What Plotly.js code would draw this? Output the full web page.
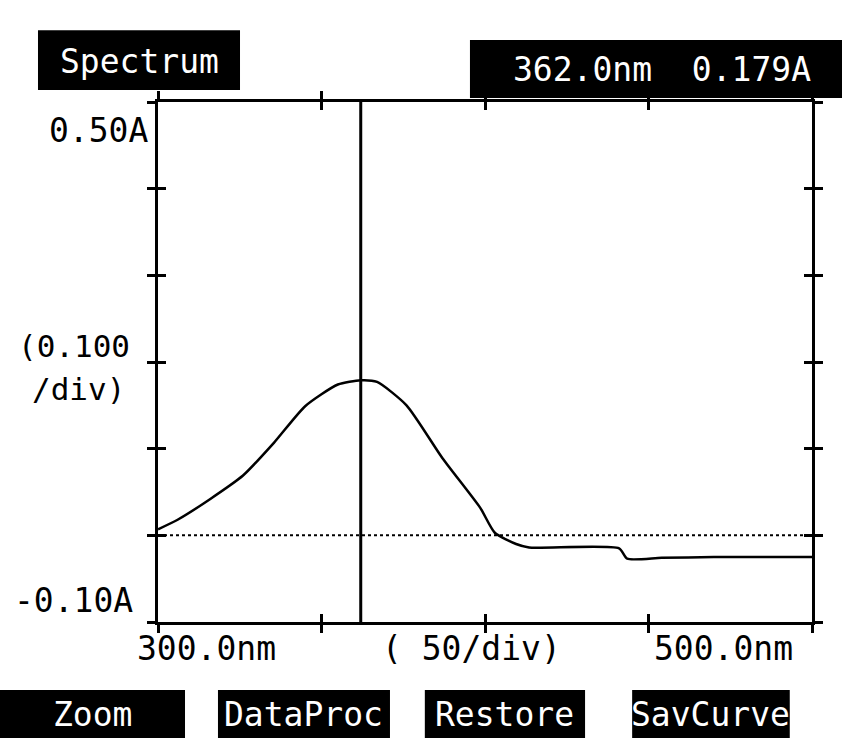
<!DOCTYPE html>
<html>
<head>
<meta charset="utf-8">
<script src="https://cdn.plot.ly/plotly-3.0.1.min.js"></script>
<style>html,body{margin:0;padding:0;background:#fff;}#chart{width:842px;height:738px;}</style>
</head>
<body>
<div id="chart"></div>
<script>
// Spectrum data (wavelength nm, absorbance A)
const wavelength = [300, 306, 316, 326, 335.5, 345, 355, 362, 367, 376, 387, 398.5, 403, 409.5, 413.5, 441, 443.5, 454, 470, 485, 500];
const absorbance = [0.007, 0.018, 0.042, 0.069, 0.107, 0.149, 0.174, 0.179, 0.177, 0.150, 0.089, 0.032, 0.003, -0.010, -0.014, -0.015, -0.027, -0.026, -0.025, -0.025, -0.025];
const baselineX = [300, 500];
const baselineY = [0, 0];
const cursorNm = 362.0;
const cursorA = 0.179;
const xRange = [300, 500];
const yRange = [-0.10, 0.50];
const xTickVals = [300, 350, 400, 450, 500];
const yTickVals = [-0.1, 0, 0.1, 0.2, 0.3, 0.4, 0.5];
const yEndLabels = ["0.50A", "-0.10A"];
const yDivLabel = ["(0.100", "/div)"];
const xLabels = ["300.0nm", "( 50/div)", "500.0nm"];
const titleLabel = "Spectrum";
const readoutLabel = cursorNm.toFixed(1) + "nm  " + cursorA.toFixed(3) + "A";
const buttonLabels = ["Zoom", "DataProc", "Restore", "SavCurve"];

const FONT = "DejaVu Sans Mono, Liberation Mono, monospace";
const fs = 33;

const traces = [
  {x: baselineX, y: baselineY, mode: "lines", line: {color: "#000", width: 2, dash: "dot"}, hoverinfo: "skip"},
  {x: wavelength, y: absorbance, mode: "lines", line: {color: "#000", width: 2.5, shape: "spline", smoothing: 0.6}, hoverinfo: "skip"},
  {x: [cursorNm, cursorNm], y: yRange, mode: "lines", line: {color: "#000", width: 3}, hoverinfo: "skip"},
  {x: xRange, y: yRange, xaxis: "x2", yaxis: "y2", mode: "none", hoverinfo: "skip"}
];

const axBase = {showgrid: false, zeroline: false, showticklabels: false, showline: true, linecolor: "#000", linewidth: 3, mirror: "allticks", tickcolor: "#000", tickwidth: 3, ticklen: 8};

const ann = [];
function txt(text, x, y, xanchor, color, size) {
  ann.push({text: text, x: x, y: y, xref: "paper", yref: "paper", xanchor: xanchor, yanchor: "middle", showarrow: false, font: {family: FONT, size: size || fs, color: color || "#000"}});
}
txt(yEndLabels[0], -0.012, 0.946, "right");
txt(yEndLabels[1], -0.035, 0.042, "right");
txt(yDivLabel[0], -0.04, 0.531, "right", "#000", 31);
txt(yDivLabel[1], -0.048, 0.448, "right", "#000", 31);
txt(xLabels[0], -0.035, -0.05, "left");
txt(xLabels[1], 0.48, -0.05, "center");
txt(xLabels[2], 0.974, -0.05, "right");
txt(titleLabel, -0.029, 1.077, "center", "#fff");
txt(readoutLabel, 0.771, 1.063, "center", "#fff");
const btnX = [[-0.2416, 0.0413], [0.0917, 0.3547], [0.408, 0.653], [0.725, 0.966]];
const shapes = [
  {type: "rect", xref: "paper", yref: "paper", x0: -0.1835, x1: 0.1254, y0: 1.023, y1: 1.138, fillcolor: "#000", line: {width: 0}},
  {type: "rect", xref: "paper", yref: "paper", x0: 0.477, x1: 1.05, y0: 1.0077, y1: 1.119, fillcolor: "#000", line: {width: 0}}
];
buttonLabels.forEach((b, i) => {
  shapes.push({type: "rect", xref: "paper", yref: "paper", x0: btnX[i][0], x1: btnX[i][1], y0: -0.223, y1: -0.131, fillcolor: "#000", line: {width: 0}});
  txt(b, (btnX[i][0] + btnX[i][1]) / 2, -0.177, "center", "#fff");
});

const layout = {
  width: 842, height: 738,
  margin: {l: 158, r: 30, t: 102, b: 116},
  paper_bgcolor: "#fff", plot_bgcolor: "#fff",
  showlegend: false,
  xaxis: Object.assign({}, axBase, {range: xRange, tickvals: xTickVals, ticks: "outside"}),
  yaxis: Object.assign({}, axBase, {range: yRange, tickvals: yTickVals, ticks: "outside"}),
  xaxis2: Object.assign({}, axBase, {range: xRange, tickvals: xTickVals, ticks: "inside", overlaying: "x", anchor: "y2"}),
  yaxis2: Object.assign({}, axBase, {range: yRange, tickvals: yTickVals, ticks: "inside", overlaying: "y", anchor: "x2"}),
  shapes: shapes,
  annotations: ann
};
Plotly.newPlot("chart", traces, layout, {displayModeBar: false, staticPlot: true});
</script>
</body>
</html>
